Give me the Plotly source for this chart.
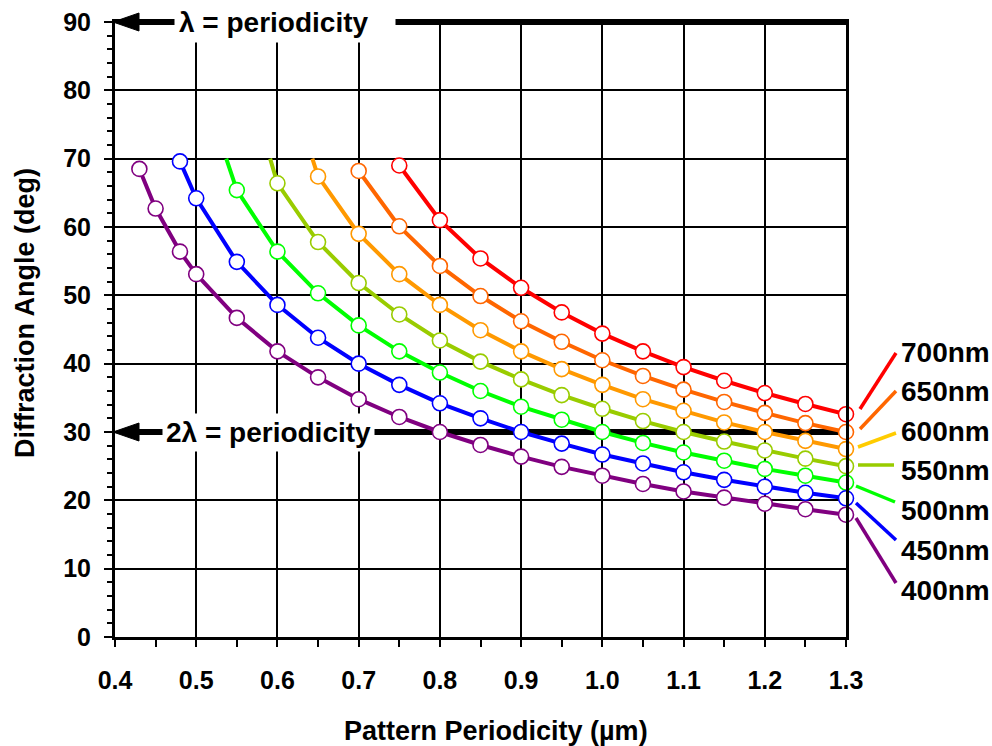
import plotly.graph_objects as go

# ---------------- data ----------------
wavelengths = ["700nm", "650nm", "600nm", "550nm", "500nm", "450nm", "400nm"]

x_700 = [0.75, 0.80, 0.85, 0.90, 0.95, 1.00, 1.05, 1.10, 1.15, 1.20, 1.25, 1.30]
y_700 = [69.0, 61.0, 55.4, 51.1, 47.5, 44.4, 41.8, 39.5, 37.5, 35.7, 34.1, 32.6]

x_650 = [0.70, 0.75, 0.80, 0.85, 0.90, 0.95, 1.00, 1.05, 1.10, 1.15, 1.20, 1.25, 1.30]
y_650 = [68.2, 60.1, 54.3, 49.9, 46.2, 43.2, 40.5, 38.2, 36.2, 34.4, 32.8, 31.3, 30.0]

x_600 = [0.643, 0.65, 0.70, 0.75, 0.80, 0.85, 0.90, 0.95, 1.00, 1.05, 1.10, 1.15, 1.20, 1.25, 1.30]
y_600 = [70.0, 67.4, 59.0, 53.1, 48.6, 44.9, 41.8, 39.2, 36.9, 34.8, 33.1, 31.4, 30.0, 28.7, 27.5]

x_550 = [0.591, 0.60, 0.65, 0.70, 0.75, 0.80, 0.85, 0.90, 0.95, 1.00, 1.05, 1.10, 1.15, 1.20, 1.25, 1.30]
y_550 = [70.0, 66.4, 57.8, 51.8, 47.2, 43.4, 40.3, 37.7, 35.4, 33.4, 31.6, 30.0, 28.6, 27.3, 26.1, 25.0]

x_500 = [0.537, 0.55, 0.60, 0.65, 0.70, 0.75, 0.80, 0.85, 0.90, 0.95, 1.00, 1.05, 1.10, 1.15, 1.20, 1.25, 1.30]
y_500 = [70.0, 65.4, 56.4, 50.3, 45.6, 41.8, 38.7, 36.0, 33.7, 31.8, 30.0, 28.4, 27.0, 25.8, 24.6, 23.6, 22.6]

x_450 = [0.48, 0.50, 0.55, 0.60, 0.65, 0.70, 0.75, 0.80, 0.85, 0.90, 0.95, 1.00, 1.05, 1.10, 1.15, 1.20, 1.25, 1.30]
y_450 = [69.6, 64.2, 54.9, 48.6, 43.8, 40.0, 36.9, 34.2, 32.0, 30.0, 28.3, 26.7, 25.4, 24.1, 23.0, 22.0, 21.1, 20.3]

x_400 = [0.43, 0.45, 0.48, 0.50, 0.55, 0.60, 0.65, 0.70, 0.75, 0.80, 0.85, 0.90, 0.95, 1.00, 1.05, 1.10, 1.15, 1.20, 1.25, 1.30]
y_400 = [68.5, 62.7, 56.4, 53.1, 46.7, 41.8, 38.0, 34.8, 32.2, 30.0, 28.1, 26.4, 24.9, 23.6, 22.4, 21.3, 20.4, 19.5, 18.7, 17.9]

# series whose first point carries no marker (line starts at 70 deg)
no_marker_first = {"600nm": True, "550nm": True, "500nm": True}

x_ticks = [0.4, 0.5, 0.6, 0.7, 0.8, 0.9, 1.0, 1.1, 1.2, 1.3]
x_tick_labels = ["0.4", "0.5", "0.6", "0.7", "0.8", "0.9", "1.0", "1.1", "1.2", "1.3"]
y_ticks = [0, 10, 20, 30, 40, 50, 60, 70, 80, 90]

X_RANGE = [0.4, 1.3]
Y_RANGE = [0, 90]
lambda_line_y = 90
two_lambda_line_y = 30

x_title = "Pattern Periodicity (µm)"
y_title = "Diffraction Angle (deg)"

# ---------------- styles ----------------
series = [
    ("700nm", x_700, y_700, "#FF0000", "#FF0000"),
    ("650nm", x_650, y_650, "#FF6600", "#FF6600"),
    ("600nm", x_600, y_600, "#FF9900", "#FFCC00"),
    ("550nm", x_550, y_550, "#99CC00", "#99CC00"),
    ("500nm", x_500, y_500, "#00FF00", "#00FF00"),
    ("450nm", x_450, y_450, "#0000FF", "#0000FF"),
    ("400nm", x_400, y_400, "#800080", "#800080"),
]

W, H = 992, 746
L, R, T, B = 115, 146, 22, 109
PW, PH = W - L - R, H - T - B


def px(xp):
    return (xp - L) / PW


def py(yp):
    return (H - B - yp) / PH


def dx(v):  # data x -> paper
    return (v - X_RANGE[0]) / (X_RANGE[1] - X_RANGE[0])


def dy(v):  # data y -> paper
    return (v - Y_RANGE[0]) / (Y_RANGE[1] - Y_RANGE[0])


FONT = "Liberation Sans, Arial, sans-serif"
NB = "\u00a0"

fig = go.Figure()

for name, xs, ys, col, _ in series:
    sizes = [15] * len(xs)
    if no_marker_first.get(name):
        sizes[0] = 0
    fig.add_trace(go.Scatter(
        x=xs, y=ys, mode="lines+markers", name=name,
        line=dict(color=col, width=4),
        marker=dict(symbol="circle", size=sizes, color="#FFFFFF", opacity=1,
                    line=dict(color=col, width=1.6)),
        showlegend=False, cliponaxis=False, hoverinfo="skip",
    ))

shapes = []
annotations = []

# thick horizontal reference lines with left-pointing arrow heads (paper refs -> not clipped)
ah_len = 24 / PW   # arrow head length (paper)
ah_half = 9 / PH   # arrow head half height (paper)
for yv in (lambda_line_y, two_lambda_line_y):
    yp = dy(yv)
    shapes.append(dict(type="line", xref="paper", yref="paper", x0=dx(0.42), x1=dx(1.3) + 2 / PW,
                       y0=yp, y1=yp, line=dict(color="black", width=6), layer="between"))
    shapes.append(dict(type="path", xref="paper", yref="paper",
                       path=f"M {-2 / PW} {yp} L {ah_len} {yp + ah_half} L {ah_len} {yp - ah_half} Z",
                       fillcolor="black", line=dict(color="black", width=1), layer="above"))

annotations.append(dict(x=px(174), y=dy(lambda_line_y), xref="paper", yref="paper",
                        text="λ = periodicity" + NB * 3, showarrow=False, bgcolor="white",
                        xanchor="left", yanchor="middle", borderpad=4,
                        font=dict(family=FONT, size=28, color="black", weight="bold")))
annotations.append(dict(x=px(268), y=dy(two_lambda_line_y), xref="paper", yref="paper",
                        text="2λ = periodicity", showarrow=False, bgcolor="white",
                        xanchor="center", yanchor="middle", borderpad=3,
                        font=dict(family=FONT, size=28, color="black", weight="bold")))

# axis titles
annotations.append(dict(x=px(496), y=py(731), xref="paper", yref="paper",
                        text=x_title, showarrow=False, xanchor="center", yanchor="middle",
                        font=dict(family=FONT, size=27, color="black", weight="bold")))
annotations.append(dict(x=px(25), y=py(313), xref="paper", yref="paper", textangle=-90,
                        text=y_title, showarrow=False, xanchor="center", yanchor="middle",
                        font=dict(family=FONT, size=27, color="black", weight="bold")))

# right-hand labels with coloured leaders
leaders = [
    ((860, 409), (896, 353), 352),
    ((860, 429), (896, 391), 391),
    ((858, 447), (896, 433), 431),
    ((858, 465), (894, 465), 470),
    ((856, 486), (895, 502), 510),
    ((856, 503), (896, 540), 550),
    ((856, 518), (896, 583), 590),
]
for (name, _, _, _, lcol), (p0, p1, ty) in zip(series, leaders):
    shapes.append(dict(type="line", xref="paper", yref="paper",
                       x0=px(p0[0]), y0=py(p0[1]), x1=px(p1[0]), y1=py(p1[1]),
                       line=dict(color=lcol, width=3.5)))
    annotations.append(dict(x=px(899), y=py(ty), xref="paper", yref="paper",
                            text=name, showarrow=False, xanchor="left", yanchor="middle",
                            font=dict(family=FONT, size=28, color="black", weight="bold")))

fig.update_layout(
    width=W, height=H,
    margin=dict(l=L, r=R, t=T, b=B, autoexpand=False),
    plot_bgcolor="white", paper_bgcolor="white",
    font=dict(family=FONT, color="black"),
    shapes=shapes, annotations=annotations,
    xaxis=dict(
        range=X_RANGE, tickvals=x_ticks, ticktext=x_tick_labels,
        showgrid=True, gridcolor="black", gridwidth=1.5,
        showline=True, linecolor="black", linewidth=3, mirror=True,
        ticks="outside", ticklen=7, tickwidth=1.5, tickcolor="black",
        minor=dict(dtick=0.05, ticks="outside", ticklen=7, tickwidth=1.5,
                   tickcolor="black", showgrid=False),
        ticklabelstandoff=12, automargin=False,
        tickfont=dict(family=FONT, size=25, weight="bold"),
        zeroline=False,
    ),
    yaxis=dict(
        range=Y_RANGE, tickvals=y_ticks,
        showgrid=True, gridcolor="black", gridwidth=1.5,
        showline=True, linecolor="black", linewidth=3, mirror=True,
        ticks="outside", ticklen=8, tickwidth=1.5, tickcolor="black",
        minor=dict(dtick=2, ticks="outside", ticklen=5, tickwidth=1.5,
                   tickcolor="black", showgrid=False),
        ticklabelstandoff=8, automargin=False,
        tickfont=dict(family=FONT, size=25, weight="bold"),
        zeroline=False,
    ),
)

fig.write_html("out.html", config={"displayModeBar": False},
               post_script="document.body.style.margin='0px';document.body.style.overflow='hidden';")
